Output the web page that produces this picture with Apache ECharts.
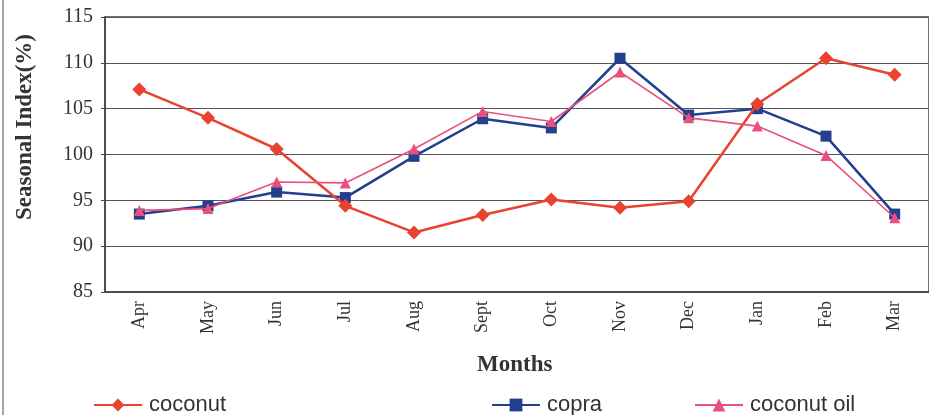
<!DOCTYPE html>
<html>
<head>
<meta charset="utf-8">
<script src="https://cdn.jsdelivr.net/npm/echarts@6/dist/echarts.min.js"></script>
<style>
  html, body { margin: 0; padding: 0; background: #ffffff; }
  #chart { width: 929px; height: 415px; }
</style>
</head>
<body>
<div id="chart"></div>
<script>
// Monthly seasonal indices (%) for coconut, copra and coconut oil
const months = ['Apr', 'May', 'Jun', 'Jul', 'Aug', 'Sept', 'Oct', 'Nov', 'Dec', 'Jan', 'Feb', 'Mar'];
const coconut = [107.1, 104.0, 100.6, 94.4, 91.5, 93.4, 95.1, 94.2, 94.9, 105.5, 110.5, 108.7];
const copra = [93.5, 94.4, 95.9, 95.3, 99.8, 103.9, 102.9, 110.5, 104.3, 105.0, 102.0, 93.5];
const coconutOil = [93.9, 94.1, 97.0, 96.9, 100.6, 104.7, 103.6, 109.0, 104.0, 103.1, 99.9, 93.1];
const yTicks = { min: 85, max: 115, step: 5 };

const serif = '"Liberation Serif", "Times New Roman", serif';
const sans = '"Liberation Sans", Arial, sans-serif';

const chart = echarts.init(document.getElementById('chart'), null, { renderer: 'canvas' });

function legendBox(name, left) {
  return {
    data: [name],
    left: left,
    top: 389,
    itemWidth: 48,
    itemHeight: 16,
    itemGap: 0,
    textStyle: { fontFamily: sans, fontSize: 22, color: '#333333', padding: [0, 0, 0, 2] }
  };
}

chart.setOption({
  animation: false,
  backgroundColor: '#ffffff',
  grid: {
    left: 105, right: -3, top: 17, bottom: 123,
    show: true, borderColor: '#444444', borderWidth: 1.5
  },
  legend: [
    legendBox('coconut', 88),
    legendBox('copra', 486),
    legendBox('coconut oil', 689)
  ],
  graphic: [
    {
      type: 'line', silent: true,
      shape: { x1: 3, y1: 0, x2: 3, y2: 415 },
      style: { stroke: '#888888', lineWidth: 1.5 }
    },
    {
      type: 'text', silent: true,
      left: 14, top: 34,
      rotation: Math.PI / 2,
      style: {
        text: 'Seasonal Index(%)',
        font: 'bold 23px ' + serif,
        fill: '#333333'
      }
    },
    {
      type: 'text', silent: true,
      left: 477, top: 354,
      style: {
        text: 'Months',
        font: 'bold 23px ' + serif,
        fill: '#333333'
      }
    }
  ],
  xAxis: {
    type: 'category',
    data: months,
    boundaryGap: true,
    axisLine: { lineStyle: { color: '#444444', width: 1.5 } },
    axisTick: { inside: true, length: 5, lineStyle: { color: '#444444' } },
    axisLabel: {
      rotate: 90, margin: 9,
      fontFamily: serif, fontSize: 18, color: '#333333'
    },
    splitLine: { show: false }
  },
  yAxis: {
    type: 'value',
    min: yTicks.min, max: yTicks.max, interval: yTicks.step,
    axisLine: { show: true, lineStyle: { color: '#444444', width: 1.5 } },
    axisTick: { show: true, length: 4, lineStyle: { color: '#444444' } },
    axisLabel: {
      margin: 12,
      fontFamily: serif, fontSize: 20, color: '#333333'
    },
    splitLine: { show: true, lineStyle: { color: '#555555', width: 1.2 } }
  },
  series: [
    {
      name: 'coconut', type: 'line', data: coconut,
      symbol: 'diamond', symbolSize: 14,
      lineStyle: { color: '#e8432f', width: 2.5 },
      itemStyle: { color: '#e8432f' },
      z: 3
    },
    {
      name: 'copra', type: 'line', data: copra,
      symbol: 'rect', symbolSize: 11,
      lineStyle: { color: '#233f8e', width: 2.5 },
      itemStyle: { color: '#233f8e' },
      z: 2
    },
    {
      name: 'coconut oil', type: 'line', data: coconutOil,
      symbol: 'triangle', symbolSize: 11,
      lineStyle: { color: '#ea4f7e', width: 1.6 },
      itemStyle: { color: '#ea4f7e' },
      z: 4
    }
  ]
});
</script>
</body>
</html>
